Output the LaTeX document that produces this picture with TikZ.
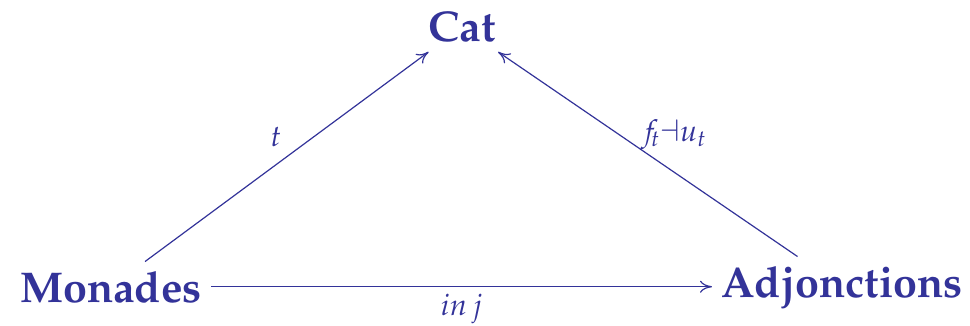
\documentclass[tikz,border=0pt]{standalone}
\usepackage[T1]{fontenc}
\usepackage{mathpazo}
\usetikzlibrary{arrows.meta}
\definecolor{dblue}{RGB}{51,51,153}
\begin{document}
\begin{tikzpicture}[x=0.5pt,y=-0.5pt,
  obj/.style={font=\fontsize{21.5}{25}\selectfont\bfseries, text=dblue, inner sep=4.5pt, anchor=base},
  lbl/.style={font=\fontsize{15}{18}\selectfont, text=dblue, inner sep=0pt},
  arr/.style={draw=dblue, line width=0.6pt, -{To[length=6pt,width=6pt]}}]
\useasboundingbox (0,0) rectangle (970,326);
\node[obj] (c) at (462,42) {Cat};
\node[obj] (m) at (111,302) {Monades};
\node[obj] (a) at (842,297) {Adjonctions};
\draw[arr] (m) -- node[lbl, xshift=-5.5pt, yshift=10pt] {$t$} (c);
\draw[arr] (a) -- node[lbl, xshift=13pt, yshift=9.5pt] {$f_{\!t}{\dashv}u_{t}$} (c);
\draw[arr] (m.east) -- node[lbl, yshift=-11pt] {$in\,j$} (a.west |- m.east);
\end{tikzpicture}
\end{document}
